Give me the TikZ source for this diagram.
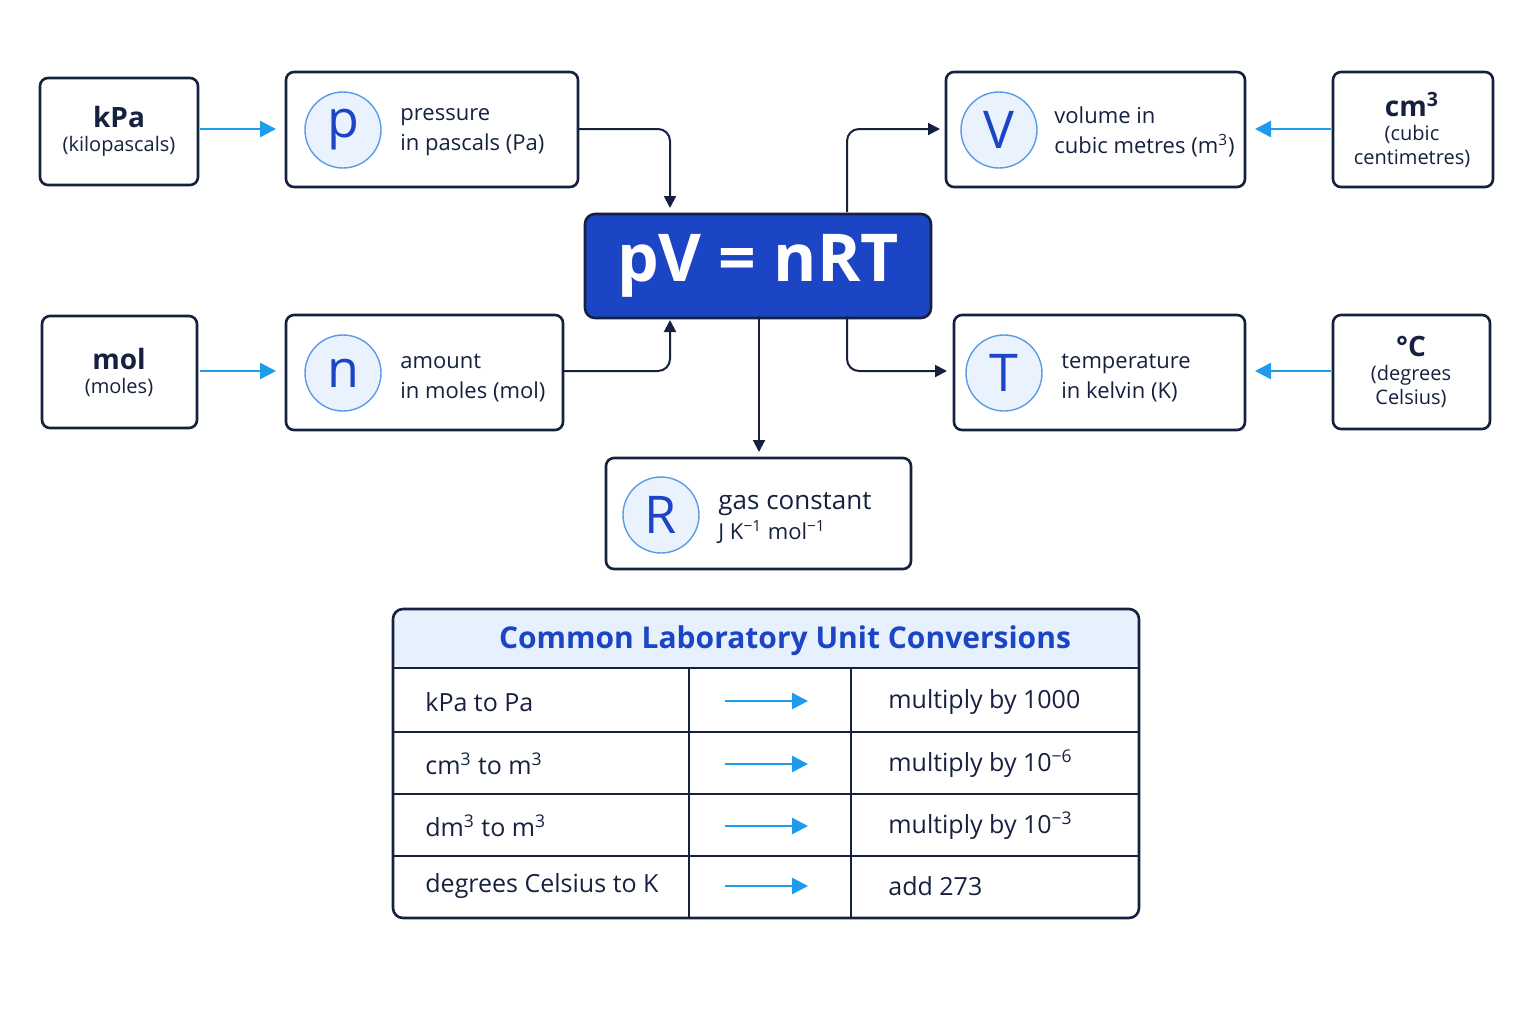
\documentclass[tikz,border=0pt]{standalone}
\usepackage{fontspec}
\setmainfont{Open Sans}
\usetikzlibrary{arrows.meta,positioning}
\definecolor{navy}{HTML}{16213F}
\definecolor{lblue}{HTML}{1E9BEA}
\definecolor{mblue}{HTML}{1C45C6}
\definecolor{cfill}{HTML}{EAF2FE}
\definecolor{cedge}{HTML}{5A9BE6}
\definecolor{hfill}{HTML}{E6F1FD}
\newcommand{\sps}[1]{\textsuperscript{#1}}
\begin{document}
\begin{tikzpicture}[x=0.5pt,y=-0.5pt,
 box/.style={draw=navy,line width=1.3pt,rounded corners=4pt,fill=white},
 circ/.style={circle,draw=cedge,line width=0.7pt,fill=cfill,minimum size=38pt,inner sep=0pt,text=mblue,font=\fontsize{26}{26}\selectfont},
 lab/.style={anchor=west,inner sep=0pt,align=left,text=navy,font=\fontsize{11}{15}\selectfont},
 unit/.style={align=center,text=navy,font=\fontsize{10}{12}\selectfont},
 conn/.style={draw=navy,line width=1pt,rounded corners=6pt,-{Triangle[length=6pt,width=6pt]}},
 bconn/.style={draw=lblue,line width=1.3pt,-{Triangle[length=8pt,width=8pt]}},
 cell/.style={anchor=west,inner sep=0pt,text=navy,font=\fontsize{12.5}{15}\selectfont}]
\useasboundingbox (0,0) rectangle (1536,1024);
\fill[white] (0,0) rectangle (1536,1024);
% units boxes
\draw[box] (40,78) rectangle (198,185); \node[unit] (kpa) at (119,131) {{\fontsize{14}{16}\selectfont\bfseries kPa}\\(kilopascals)};
\draw[box] (42,316) rectangle (197,428); \node[unit] (mol) at (119,372) {{\fontsize{14}{16}\selectfont\bfseries mol}\\(moles)};
\draw[box] (1333,72) rectangle (1493,187); \node[unit] (cm) at (1412,130) {{\fontsize{14}{16}\selectfont\bfseries cm\sps{3}}\\(cubic\\centimetres)};
\draw[box] (1333,315) rectangle (1490,429); \node[unit] (deg) at (1411,372) {{\fontsize{14}{16}\selectfont\bfseries °C}\\(degrees\\Celsius)};
% quantity boxes
\draw[box] (286,72) rectangle (578,187); \node[circ] (p) at (343,130) {p};
\node[lab] (pl) at (400,132) {pressure\\in pascals (Pa)};
\draw[box] (946,72) rectangle (1245,187); \node[circ] (V) at (999,130) {V};
\node[lab] (Vl) at (1054,132) {volume in\\cubic metres (m\sps{3})};
\draw[box] (286,315) rectangle (563,430); \node[circ] (n) at (343,373) {n};
\node[lab] (nl) at (400,378) {amount\\in moles (mol)};
\draw[box] (954,315) rectangle (1245,430); \node[circ] (T) at (1004,373) {T};
\node[lab] (Tl) at (1061,378) {temperature\\in kelvin (K)};
\draw[box] (606,458) rectangle (911,569); \node[circ] (R) at (661,515) {R};
\node[lab] (Rl) at (718,518) {{\fontsize{13}{16}\selectfont gas constant}\\J K\sps{−1} mol\sps{−1}};
% centre
\node[draw=navy,line width=1.3pt,rounded corners=5pt,fill=mblue,minimum width=173pt,minimum height=52pt,text=white,font=\fontsize{33}{33}\selectfont\bfseries] (eq) at (758,266) {pV = nRT};
% coordinates
\coordinate (pout) at (578,129); \coordinate (nout) at (563,371);
\coordinate (kout) at (200,129); \coordinate (pin) at (276,129);
\coordinate (mout) at (200,371); \coordinate (nin) at (276,371);
\coordinate (cout) at (1331,129); \coordinate (vin) at (1255,129);
\coordinate (dout) at (1331,371); \coordinate (tin) at (1255,371);
\coordinate (eqtop) at (670,208); \coordinate (eqbot) at (670,320);
\coordinate (eqv) at (847,212); \coordinate (vend) at (940,129);
\coordinate (eqt) at (847,316); \coordinate (tend) at (947,371);
\coordinate (eqr) at (759,316); \coordinate (rend) at (759,452);
\draw[bconn] (kout) -- (pin);
\draw[bconn] (mout) -- (nin);
\draw[bconn] (cout) -- (vin);
\draw[bconn] (dout) -- (tin);
\draw[conn] (pout) -| (eqtop);
\draw[conn] (nout) -| (eqbot);
\draw[conn] (eqv) |- (vend);
\draw[conn] (eqt) |- (tend);
\draw[conn] (eqr) -- (rend);
% table
\fill[hfill,rounded corners=5pt] (393,609) rectangle (1139,668);
\draw[navy,line width=1.3pt,rounded corners=5pt] (393,609) rectangle (1139,918);
\foreach \y in {668,732,794,856} \draw[navy,line width=1.3pt] (393,\y) -- (1139,\y);
\draw[navy,line width=1.3pt] (689,668) -- (689,918);
\draw[navy,line width=1.3pt] (851,668) -- (851,918);
\node[text=mblue,font=\fontsize{15}{17}\selectfont\bfseries] (title) at (785,641) {Common Laboratory Unit Conversions};
\node[cell] (a1) at (425,702) {kPa to Pa};
\node[cell] (a2) at (425,764) {cm\sps{3} to m\sps{3}};
\node[cell] (a3) at (425,826) {dm\sps{3} to m\sps{3}};
\node[cell] (a4) at (425,886) {degrees Celsius to K};
\node[cell] (c1) at (888,702) {multiply by 1000};
\node[cell] (c2) at (888,764) {multiply by 10\sps{−6}};
\node[cell] (c3) at (888,826) {multiply by 10\sps{−3}};
\node[cell] (c4) at (888,886) {add 273};
\foreach \y/\i in {701/1,764/2,826/3,886/4}{
 \coordinate (ta\i) at (725,\y); \coordinate (tb\i) at (808,\y);
 \draw[bconn] (ta\i) -- (tb\i);}
\end{tikzpicture}
\end{document}
